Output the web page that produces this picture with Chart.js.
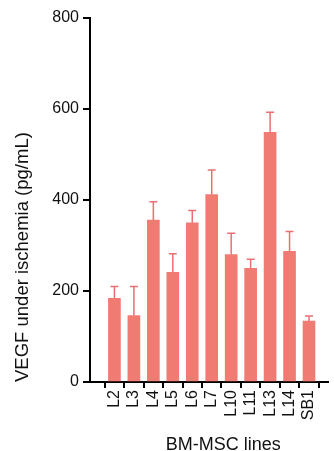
<!DOCTYPE html>
<html>
<head>
<meta charset="utf-8">
<script src="https://cdn.jsdelivr.net/npm/chart.js@4/dist/chart.umd.min.js"></script>
<style>
  html, body { margin: 0; padding: 0; background: #fff; }
  #wrap { width: 334px; height: 451px; }
</style>
</head>
<body>
<div id="wrap"><canvas id="graph"></canvas></div>
<script>
// donnees
const lignees = ["L2", "L3", "L4", "L5", "L6", "L7", "L10", "L11", "L13", "L14", "SB1"];
const vegf = [184, 146, 356, 241, 350, 412, 280, 250, 549, 287, 134];
const erreurs = [26, 64, 40, 41, 27, 54, 47, 20, 44, 44, 11];
const ticksY = [0, 200, 400, 600, 800];

const couleurBarre = "#F07B73";
const couleurErreur = "#EC6F74";
const police = "Liberation Sans, Arial, sans-serif";
const titreX = "BM-MSC lines";

// barres d'erreur (vers le haut seulement) + titre de l'axe x
const barresErreur = {
	id: "barresErreur",
	afterDatasetsDraw: function(chart) {
		var ctx = chart.ctx;
		var x = chart.scales.x, y = chart.scales.y;
		ctx.save();
		ctx.strokeStyle = couleurErreur;
		ctx.lineWidth = 1.5;
		for (var i = 0; i < vegf.length; i++) {
			var px = x.getPixelForValue(i);
			var bas = y.getPixelForValue(vegf[i]);
			var haut = y.getPixelForValue(vegf[i] + erreurs[i]);
			ctx.beginPath();
			ctx.moveTo(px, bas);
			ctx.lineTo(px, haut);
			ctx.moveTo(px - 4, haut);
			ctx.lineTo(px + 4, haut);
			ctx.stroke();
		}
		ctx.restore();
	},
	afterDraw: function(chart) {
		var ctx = chart.ctx, zone = chart.chartArea;
		ctx.save();
		ctx.fillStyle = "#111";
		ctx.font = "18px " + police;
		ctx.textAlign = "center";
		ctx.textBaseline = "alphabetic";
		ctx.fillText(titreX, zone.left + zone.width * 0.56, zone.bottom + 68);
		ctx.restore();
	}
};

var ctx = document.getElementById("graph").getContext("2d");
window.monGraph = new Chart(ctx, {
	type: "bar",
	data: {
		datasets: [{
			data: vegf.map(function(v, i) { return { x: i, y: v }; }),
			backgroundColor: couleurBarre,
			borderWidth: 0,
			barThickness: 12
		}]
	},
	options: {
		responsive: true,
		maintainAspectRatio: false,
		animation: false,
		layout: { padding: { top: 18, right: 6, left: 2, bottom: 0 } },
		plugins: {
			legend: { display: false },
			tooltip: { enabled: false }
		},
		scales: {
			x: {
				type: "linear",
				min: -0.7,
				max: 10.42,
				afterBuildTicks: function(axis) {
					axis.ticks = lignees.map(function(l, i) { return { value: i }; });
				},
				afterFit: function(axis) { axis.height = 69; },
				ticks: {
					autoSkip: false,
					maxRotation: 90,
					minRotation: 90,
					padding: 2,
					color: "#111",
					font: { family: police, size: 16 },
					callback: function(v) { return lignees[v]; }
				},
				grid: {
					drawOnChartArea: false,
					color: "#000",
					lineWidth: 2,
					tickLength: 6
				},
				border: { color: "#000", width: 2 }
			},
			y: {
				min: 0,
				max: 800,
				afterBuildTicks: function(axis) {
					axis.ticks = ticksY.map(function(v) { return { value: v }; });
				},
				afterFit: function(axis) { axis.width = 88; },
				ticks: {
					padding: 4,
					color: "#111",
					font: { family: police, size: 16 }
				},
				grid: {
					drawOnChartArea: false,
					color: "#000",
					lineWidth: 2,
					tickLength: 7
				},
				border: { color: "#000", width: 2 },
				title: {
					display: true,
					text: "VEGF under ischemia (pg/mL)",
					align: "start",
					color: "#111",
					padding: { top: 10, bottom: 0 },
					font: { family: police, size: 18.5 }
				}
			}
		}
	},
	plugins: [barresErreur]
});
</script>
</body>
</html>
